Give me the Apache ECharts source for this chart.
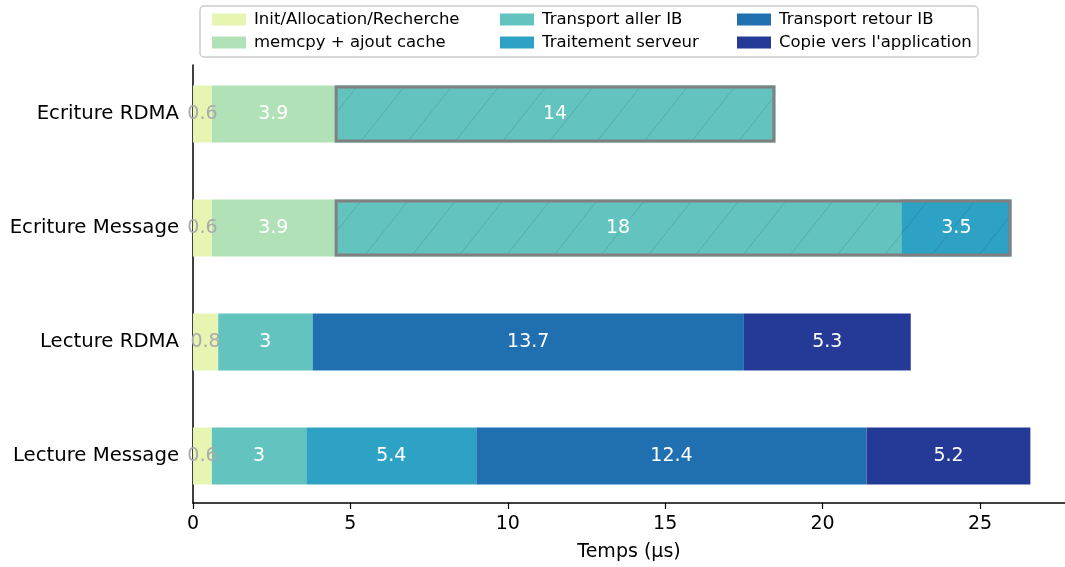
<!DOCTYPE html>
<html>
<head>
<meta charset="utf-8">
<script src="https://cdn.jsdelivr.net/npm/echarts@6/dist/echarts.min.js"></script>
<style>html,body{margin:0;padding:0;background:#fff}#c{width:1065px;height:567px}</style>
</head>
<body>
<div id="c"></div>
<script>
// ---- data ----
var categories = ['Ecriture RDMA', 'Ecriture Message', 'Lecture RDMA', 'Lecture Message'];
var seriesNames = ['Init/Allocation/Recherche', 'memcpy + ajout cache', 'Transport aller IB', 'Traitement serveur', 'Transport retour IB', "Copie vers l'application"];
var initVals      = [0.6, 0.6, 0.8, 0.6];
var memcpyVals    = [3.9, 3.9, null, null];
var allerVals     = [14, 18, 3, 3];
var traitVals     = [null, 3.5, null, 5.4];
var retourVals    = [null, null, 13.7, 12.4];
var copieVals     = [null, null, 5.3, 5.2];
var hatchedCats   = ['Ecriture RDMA', 'Ecriture Message'];
var xTicks = [0, 5, 10, 15, 20, 25];
var xAxisName = 'Temps (µs)';

var colors = ['#e7f5b3', '#b1e1b6', '#63c3bf', '#2ea2c4', '#2070b1', '#253a97'];
var FONT = 'DejaVu Sans';
var XMAX = 27.7;
var BARW = 57;

var decal = {
  symbol: 'rect', symbolSize: 1,
  dashArrayX: [1, 0], dashArrayY: [1, 36],
  rotation: -0.9,
  color: 'rgba(0,0,0,0.1)'
};

function mk(name, vals, color, hatchable, labelColor) {
  return {
    name: name, type: 'bar', stack: 'total',
    xAxisIndex: 0, yAxisIndex: 0,
    barWidth: BARW,
    itemStyle: { color: color },
    label: { show: true, position: 'inside', color: labelColor || '#ffffff', fontSize: 19, fontFamily: FONT,
             formatter: function (p) { return String(p.value); } },
    data: vals.map(function (v, i) {
      if (v === null) return '-';
      if (hatchable && hatchedCats.indexOf(categories[i]) >= 0) {
        return { value: v, itemStyle: { decal: decal } };
      }
      return v;
    })
  };
}

var boxBase = categories.map(function (c, i) {
  return hatchedCats.indexOf(c) >= 0 ? +(initVals[i] + (memcpyVals[i] || 0)).toFixed(2) : '-';
});
var boxLen = categories.map(function (c, i) {
  return hatchedCats.indexOf(c) >= 0 ? +((allerVals[i] || 0) + (traitVals[i] || 0)).toFixed(2) : '-';
});

var series = [
  mk(seriesNames[0], initVals, colors[0], false, '#aaaaaa'),
  mk(seriesNames[1], memcpyVals, colors[1], false),
  mk(seriesNames[2], allerVals, colors[2], true),
  mk(seriesNames[3], traitVals, colors[3], true),
  mk(seriesNames[4], retourVals, colors[4], false),
  mk(seriesNames[5], copieVals, colors[5], false),
  { name: 'boxBase', type: 'bar', stack: 'box', barWidth: BARW, silent: true,
    itemStyle: { color: 'rgba(0,0,0,0)' }, data: boxBase },
  { name: 'box', type: 'bar', stack: 'box', barWidth: BARW, silent: true, barGap: '-100%', z: 5,
    itemStyle: { color: 'rgba(0,0,0,0)', borderColor: '#808080', borderWidth: 3 }, data: boxLen }
];

function legend(names, left) {
  return {
    data: names, orient: 'vertical', left: left, top: 6,
    itemWidth: 34, itemHeight: 12, itemGap: 6, icon: 'rect',
    selectedMode: false,
    textStyle: { fontFamily: FONT, fontSize: 16.5, color: '#000', lineHeight: 16, padding: [0, 0, 0, 3] }
  };
}

var option = {
  animation: false,
  textStyle: { fontFamily: FONT },
  graphic: [{ type: 'rect', z: -1, shape: { x: 200, y: 6, width: 778, height: 51, r: 4 },
              style: { fill: '#fff', stroke: '#cccccc', lineWidth: 1.5 } }],
  legend: [
    legend([seriesNames[0], seriesNames[1]], 207),
    legend([seriesNames[2], seriesNames[3]], 495),
    legend([seriesNames[4], seriesNames[5]], 732)
  ],
  grid: [
    { left: 193, right: 0, top: 57, bottom: 54 },
    { left: 193, right: 0, top: 65, bottom: 63 }
  ],
  xAxis: [
    { type: 'value', gridIndex: 0, min: 0, max: XMAX, show: false },
    { type: 'value', gridIndex: 1, min: 0, max: XMAX, interval: 5,
      name: xAxisName, nameLocation: 'middle', nameGap: 40,
      nameTextStyle: { fontFamily: FONT, fontSize: 19, color: '#000' },
      axisLine: { show: true, lineStyle: { color: '#000', width: 1.5 } },
      axisTick: { show: true, length: 6, lineStyle: { color: '#000', width: 1.2 } },
      axisLabel: { fontFamily: FONT, fontSize: 19, color: '#000', margin: 12, showMaxLabel: false,
                   formatter: function (v) { return xTicks.indexOf(v) >= 0 ? String(v) : ''; } },
      splitLine: { show: false } }
  ],
  yAxis: [
    { type: 'category', gridIndex: 0, data: categories, inverse: true,
      axisLine: { show: false }, axisTick: { show: false },
      axisLabel: { fontFamily: FONT, fontSize: 19.7, color: '#000', margin: 14 } },
    { type: 'value', gridIndex: 1, min: 0, max: 1,
      axisLine: { show: true, lineStyle: { color: '#000', width: 1.5 } },
      axisTick: { show: false }, axisLabel: { show: false }, splitLine: { show: false } }
  ],
  series: series
};

var chart = echarts.init(document.getElementById('c'), null, { renderer: 'canvas' });
chart.setOption(option);
</script>
</body>
</html>
